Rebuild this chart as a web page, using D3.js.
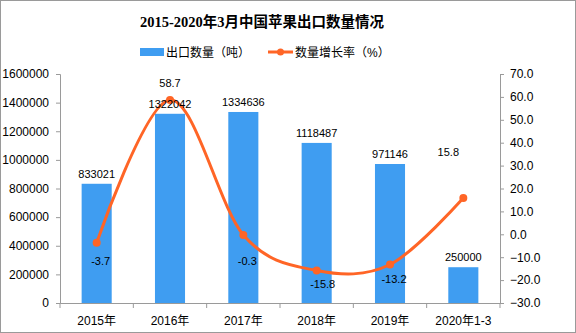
<!DOCTYPE html>
<html><head><meta charset="utf-8">
<script src="https://cdn.jsdelivr.net/npm/d3@7/dist/d3.min.js"></script>
<style>
html,body{margin:0;padding:0;background:#fff;}
svg text{font-family:"Liberation Sans","Noto Sans CJK SC",sans-serif;}
</style></head>
<body><svg id="c" width="576" height="333"></svg>
<script>
const categories = ["2015年","2016年","2017年","2018年","2019年","2020年1-3"];
const exportVolume = [833021,1322042,1334636,1118487,971146,250000];
const growthRate = [-3.7,58.7,-0.3,-15.8,-13.2,15.8];
const leftTicks = [0,200000,400000,600000,800000,1000000,1200000,1400000,1600000];
const rightTicks = [-30,-20,-10,0,10,20,30,40,50,60,70];
const title = "2015-2020年3月中国苹果出口数量情况";
const legendNames = ["出口数量（吨）","数量增长率（%）"];

// label offsets (style only)
const rateLabelOffset = [[4,22],[0,-13],[4,30],[6,18],[4,18],[-15,-42]];

const svg = d3.select("#c");
const W=576,H=333;
const m={l:60,r:500,t:74,b:303};
const barColor="#3F9DF1", lineColor="#FF6526", axisColor="#9a9a9a";

svg.append("rect").attr("x",0.5).attr("y",0.5).attr("width",W-1).attr("height",H-1)
  .attr("fill","#fff").attr("stroke","#9a9a9a");

const x = d3.scaleBand().domain(categories).range([m.l,m.r]).paddingInner(0.59).paddingOuter(0.295);
const xb = d3.scaleBand().domain(categories).range([m.l,m.r]);
const yL = d3.scaleLinear().domain([0,1600000]).range([m.b,m.t]);
const yR = d3.scaleLinear().domain([-30,70]).range([m.b,m.t]);

// title
svg.append("text").attr("x",262).attr("y",27).attr("text-anchor","middle")
  .style("font-size","14.5px").style("font-weight","bold")
  .style("font-family","'Liberation Serif','Noto Sans CJK SC',serif").text(title);

// legend
svg.append("rect").attr("x",140).attr("y",48).attr("width",24).attr("height",8).attr("fill",barColor);
svg.append("text").attr("x",166).attr("y",56.5).style("font-size","12px").text(legendNames[0]);
svg.append("line").attr("x1",268).attr("x2",293).attr("y1",52).attr("y2",52).attr("stroke",lineColor).attr("stroke-width",3);
svg.append("circle").attr("cx",280.5).attr("cy",52).attr("r",3.5).attr("fill",lineColor);
svg.append("text").attr("x",295).attr("y",56.5).style("font-size","12px").text(legendNames[1]);

// bars
svg.append("g").selectAll("rect").data(exportVolume).join("rect")
  .attr("x",(d,i)=>x(categories[i])).attr("width",x.bandwidth())
  .attr("y",d=>yL(d)).attr("height",d=>yL(0)-yL(d)).attr("fill",barColor);

// axes
const gL = svg.append("g").attr("transform",`translate(${m.l},0)`)
  .call(d3.axisLeft(yL).tickValues(leftTicks).tickFormat(d3.format("d")).tickSize(4).tickPadding(7));
const gR = svg.append("g").attr("transform",`translate(${m.r},0)`)
  .call(d3.axisRight(yR).tickValues(rightTicks).tickFormat(d3.format(".1f")).tickSize(4).tickPadding(6));
const gX = svg.append("g").attr("transform",`translate(0,${m.b})`)
  .call(d3.axisBottom(xb).tickSize(0).tickPadding(13));
// category boundary ticks
const bounds = categories.map(c=>xb(c)).concat([m.r]);
svg.append("g").selectAll("line").data(bounds).join("line")
  .attr("x1",d=>d).attr("x2",d=>d).attr("y1",m.b).attr("y2",m.b+5).attr("stroke",axisColor);
[gL,gR,gX].forEach(g=>{
  g.select(".domain").attr("stroke",axisColor);
  g.selectAll(".tick line").attr("stroke",axisColor);
  g.selectAll(".tick text").attr("fill","#000").style("font-size","12px");
});
gX.selectAll(".tick text").style("font-size","12px");

// line
const cx = i=>xb(categories[i])+xb.bandwidth()/2;
const line = d3.line().x((d,i)=>cx(i)).y(d=>yR(d)).curve(d3.curveCardinal.tension(0));
svg.append("path").datum(growthRate).attr("d",line).attr("fill","none")
  .attr("stroke",lineColor).attr("stroke-width",3);
svg.append("g").selectAll("circle").data(growthRate).join("circle")
  .attr("cx",(d,i)=>cx(i)).attr("cy",d=>yR(d)).attr("r",4).attr("fill",lineColor);

// bar labels
svg.append("g").selectAll("text").data(exportVolume).join("text")
  .attr("x",(d,i)=>cx(i)).attr("y",d=>yL(d)-6).attr("text-anchor","middle")
  .style("font-size","11px").text(d=>d);

// rate labels
svg.append("g").selectAll("text").data(growthRate).join("text")
  .attr("x",(d,i)=>cx(i)+rateLabelOffset[i][0]).attr("y",(d,i)=>yR(d)+rateLabelOffset[i][1])
  .attr("text-anchor","middle").style("font-size","11px").text(d=>d.toFixed(1));
</script></body></html>
